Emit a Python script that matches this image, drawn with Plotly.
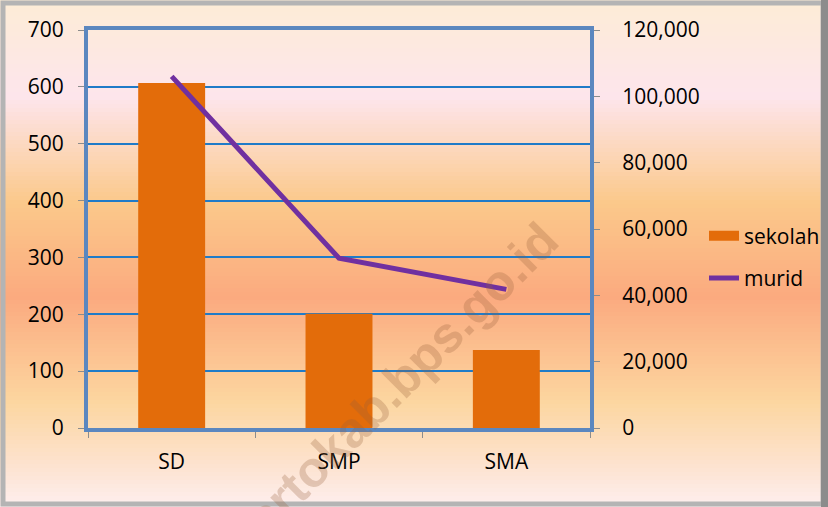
import plotly.graph_objects as go
from plotly.subplots import make_subplots

# data
categories = ["SD", "SMP", "SMA"]
sekolah = [607, 201, 137]
murid = [106000, 51200, 41800]

W, H = 828, 507
L, R, T, B = 88, 238, 30, 79   # plot area margins in px
PW, PH = W - L - R, H - T - B

ORANGE = "#E36C0A"
PURPLE = "#7030A0"


def px_x(x):
    return (x - L) / PW


def px_y(y):
    return (H - B - y) / PH


fig = make_subplots(specs=[[{"secondary_y": True}]])

fig.add_trace(go.Bar(x=categories, y=sekolah, name="sekolah",
                     marker=dict(color=ORANGE, line=dict(width=0)),
                     showlegend=False), secondary_y=False)
# legend-only entry so the swatch is a wide bar like the original
fig.add_trace(go.Scatter(x=[None], y=[None], name="sekolah", mode="lines",
                         line=dict(color=ORANGE, width=13), legendgroup="a"),
              secondary_y=False)
fig.add_trace(go.Scatter(x=categories, y=murid, name="murid", mode="lines",
                         line=dict(color=PURPLE, width=5),
                         legendgroup="b"), secondary_y=True)

# background gradient (decoration) as stacked horizontal bands
stops = [(0, (253, 236, 214)), (95, (253, 229, 236)), (200, (251, 201, 139)),
         (295, (251, 170, 127)), (400, (252, 214, 160)), (470, (253, 228, 212)),
         (507, (254, 240, 240))]
shapes = []
step = 4
for y in range(0, H, step):
    for (y0, c0), (y1, c1) in zip(stops[:-1], stops[1:]):
        if y0 <= y <= y1:
            t = (y - y0) / (y1 - y0)
            c = tuple(round(a + (b - a) * t) for a, b in zip(c0, c1))
            break
    shapes.append(dict(type="rect", xref="paper", yref="paper", layer="below",
                       x0=px_x(0), x1=px_x(W), y0=px_y(y + step + 1), y1=px_y(y),
                       fillcolor="rgb(%d,%d,%d)" % c, line=dict(width=0)))
# bevel frame
shapes.append(dict(type="rect", xref="paper", yref="paper", layer="above",
                   x0=px_x(3), x1=px_x(W - 5), y0=px_y(H - 3), y1=px_y(3),
                   fillcolor="rgba(0,0,0,0)", line=dict(color="#B4B4B4", width=5)))
shapes.append(dict(type="rect", xref="paper", yref="paper", layer="above",
                   x0=px_x(W - 7), x1=px_x(W), y0=px_y(H), y1=px_y(0),
                   fillcolor="#8C8C8C", line=dict(width=0)))

font = dict(family="Open Sans", size=21, color="#000000")
grid = "#1F7BC8"
frame = "#5B87BF"

fig.update_layout(
    width=W, height=H,
    margin=dict(l=L, r=R, t=T, b=B, autoexpand=False),
    paper_bgcolor="rgba(0,0,0,0)",
    plot_bgcolor="rgba(0,0,0,0)",
    font=font,
    bargap=0.6,
    shapes=shapes,
    showlegend=True,
    legend=dict(xref="container", yref="container", x=704 / W, y=1 - 257 / H,
                xanchor="left", yanchor="middle",
                bgcolor="rgba(0,0,0,0)", font=font, tracegroupgap=12,
                traceorder="grouped"),
    annotations=[dict(text="<b>mojokertokab.bps.go.id</b>", xref="paper", yref="paper",
                      x=px_x(350), y=px_y(431), xanchor="center", yanchor="middle",
                      showarrow=False, textangle=-45,
                      font=dict(family="Liberation Sans", size=50,
                                color="rgba(150,95,60,0.27)"))],
)

fig.update_xaxes(domain=[0, 1], showline=True, linecolor=frame, linewidth=4, mirror=True,
                 ticks="outside", tickcolor="#8C8C8C", ticklen=6, automargin=False,
                 tickson="boundaries", ticklabelstandoff=12, showgrid=False)
fig.update_yaxes(range=[0, 700], dtick=100, showgrid=True, gridcolor=grid, gridwidth=2,
                 showline=True, linecolor=frame, linewidth=4, mirror=True,
                 ticks="outside", tickcolor="#8C8C8C", ticklen=6, automargin=False,
                 ticklabelstandoff=10, zeroline=False, secondary_y=False)
fig.update_yaxes(range=[0, 120000], dtick=20000, tickformat=",", showgrid=False,
                 showline=True, linecolor=frame, linewidth=4, automargin=False,
                 ticks="outside", tickcolor="#8C8C8C", ticklen=6,
                 ticklabelstandoff=18, zeroline=False, secondary_y=True)

fig.write_html("out.html", config={"displayModeBar": False},
               post_script="document.body.style.margin='0';")
